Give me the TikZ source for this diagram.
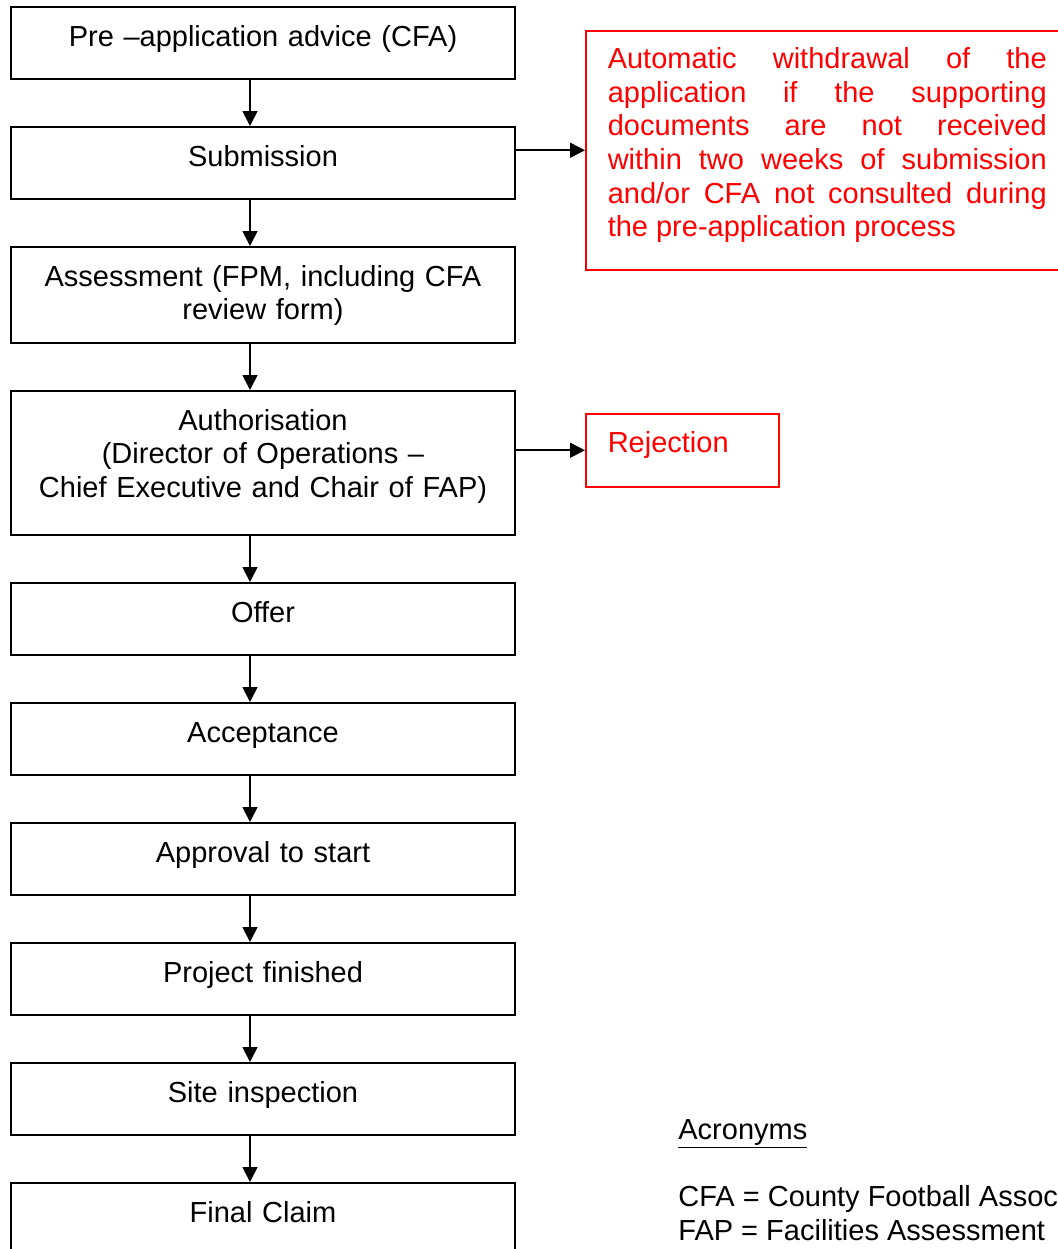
\documentclass[tikz,border=0pt]{standalone}
\usepackage{fontspec}
\setmainfont{Liberation Sans}
\usetikzlibrary{arrows.meta}
\tikzset{
  stage/.style={
    rectangle, draw=black, line width=1pt, anchor=north west,
    inner xsep=4pt, inner ysep=0pt, text width=244pt, align=center,
    minimum height=#1, text height=19.5pt, text depth={#1-19.5pt}
  },
  stage/.default=36pt,
  note/.style={
    rectangle, draw=red, line width=0.75pt, text=red, anchor=north west,
    inner xsep=11pt, inner ysep=0pt, text height=19pt
  },
  flow/.style={
    -{Triangle[length=7.5pt,width=7.5pt]}, line width=0.8pt
  },
  legend/.style={anchor=base west, inner sep=0pt}
}
\begin{document}
\begin{tikzpicture}[x=0.5pt, y=-0.5pt, every node/.style={font=\fontsize{14.5}{16.8}\selectfont}]
    \useasboundingbox (0,0) rectangle (1058,1249);
    \clip (0,0) rectangle (1058,1249);

    % Stage blocks
    \node[stage] (pre) at (10,6) {Pre –application advice (CFA)};
    \node[stage] (sub) at (10,126) {Submission};
    \node[stage=48pt] (ass) at (10,246) {Assessment (FPM, including CFA\\review form)};
    \node[stage=72pt] (auth) at (10,390) {Authorisation\\(Director of Operations –\\Chief Executive and Chair of FAP)};
    \node[stage] (offer) at (10,582) {Offer};
    \node[stage] (acc) at (10,702) {Acceptance};
    \node[stage] (appr) at (10,822) {Approval to start};
    \node[stage] (fin) at (10,942) {Project finished};
    \node[stage] (site) at (10,1062) {Site inspection};
    \node[stage] (claim) at (10,1182) {Final Claim};

    % Side outcomes
    \node[note, text width=219.5pt, align=justify, minimum height=119.5pt, text depth=100.5pt] (auto) at (585,30)
      {Automatic withdrawal of the\linebreak application if the supporting\linebreak documents are not received\linebreak within two weeks of submission\linebreak and/or CFA not consulted during\linebreak the pre-application process};
    \node[note, text width=74.5pt, align=left, minimum height=36.5pt, text depth=17pt] (rej) at (585,413) {Rejection};

    % Flow arrows
    \coordinate (axis) at (250,0);
    \draw[flow] (pre.south -| axis) -- (sub.north -| axis);
    \draw[flow] (sub.south -| axis) -- (ass.north -| axis);
    \draw[flow] (ass.south -| axis) -- (auth.north -| axis);
    \draw[flow] (auth.south -| axis) -- (offer.north -| axis);
    \draw[flow] (offer.south -| axis) -- (acc.north -| axis);
    \draw[flow] (acc.south -| axis) -- (appr.north -| axis);
    \draw[flow] (appr.south -| axis) -- (fin.north -| axis);
    \draw[flow] (fin.south -| axis) -- (site.north -| axis);
    \draw[flow] (site.south -| axis) -- (claim.north -| axis);
    \draw[flow] (auto.west -| sub.east) -- (auto.west);
    \draw[flow] (rej.west -| auth.east) -- (rej.west);

    % Acronyms
    \node[legend] (acro) at (678,1139) {\underline{Acronyms}};
    \node[legend] (cfa) at (678,1206) {CFA = County Football Assoc};
    \node[legend] (fap) at (678,1240) {FAP = Facilities Assessment};

\end{tikzpicture}
\end{document}
